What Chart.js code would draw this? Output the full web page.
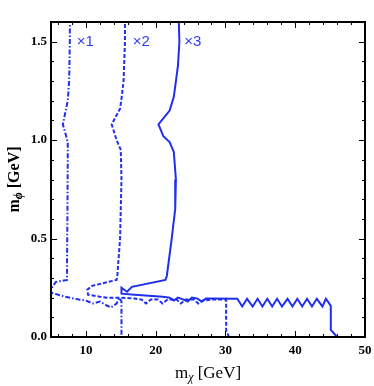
<!DOCTYPE html>
<html>
<head>
<meta charset="utf-8">
<script src="https://cdn.jsdelivr.net/npm/chart.js@4/dist/chart.umd.min.js"></script>
<style>
  html, body { margin: 0; padding: 0; background: #fff; }
  #wrap { width: 374px; height: 386px; }
</style>
</head>
<body>
<div id="wrap"><canvas id="chart" width="374" height="386"></canvas></div>
<script>
// Axis ticks
const xTicks = [10, 20, 30, 40, 50];
const yTicks = [0, 0.5, 1.0, 1.5];

// x1 contour (dash-dot)
const x1Chi = [7.7, 7.7, 7.6, 7.4, 6.7, 7.1, 7.4, 7.4, 7.35, 7.3, 7.3, 5.7, 5.0, 4.6, 5.0, 7.0, 9.0, 10.0, 11.0, 12.0, 13.0, 13.6, 14.4, 14.8, 15.1, 15.1];
const x1Phi = [1.62, 1.5, 1.3, 1.2, 1.08, 1.03, 0.99, 0.9, 0.6, 0.4, 0.29, 0.28, 0.245, 0.235, 0.225, 0.205, 0.19, 0.185, 0.17, 0.18, 0.16, 0.15, 0.17, 0.2, 0.18, 0.0];

// x2 contour (dashed)
const x2Chi = [15.6, 15.6, 15.4, 15.1, 14.9, 13.7, 14.4, 15.0, 15.1, 14.9, 14.5, 14.4, 10.9, 10.2, 10.3, 12.0, 13.0, 15.0, 17.0, 18.0, 18.6, 19.3, 20.3, 21.0, 21.7, 23.0, 23.6, 24.3, 25.5, 26.1, 26.8, 28.0, 30.1, 30.1, 30.5];
const x2Phi = [1.62, 1.5, 1.3, 1.21, 1.16, 1.08, 1.0, 0.95, 0.8, 0.5, 0.31, 0.29, 0.26, 0.24, 0.215, 0.205, 0.2, 0.2, 0.195, 0.19, 0.17, 0.19, 0.19, 0.17, 0.19, 0.19, 0.17, 0.19, 0.19, 0.17, 0.185, 0.19, 0.19, 0.035, 0.0];

// x3 contour (solid)
const x3Chi = [23.3, 23.4, 23.2, 22.9, 22.6, 22.0, 20.4, 21.1, 22.0, 22.6, 22.9, 22.8, 22.3, 21.6, 21.4, 16.6, 15.9, 15.1, 15.1, 17.0, 19.0, 21.0, 22.0, 22.6, 23.2, 24.0, 24.6, 25.2, 26.0, 26.6, 27.2, 28.0, 31.7,
  32.4, 33.1, 33.9, 34.6, 35.3, 36.0, 36.7, 37.4, 38.1, 38.9, 39.6, 40.3, 41.0, 41.7, 42.4, 43.1, 43.9, 44.4, 45.1, 45.1, 46.0];
const x3Phi = [1.62, 1.5, 1.38, 1.3, 1.22, 1.15, 1.08, 1.02, 0.99, 0.94, 0.8, 0.65, 0.5, 0.31, 0.29, 0.255, 0.23, 0.25, 0.22, 0.215, 0.21, 0.205, 0.2, 0.185, 0.2, 0.19, 0.18, 0.2, 0.195, 0.18, 0.195, 0.195, 0.194,
  0.155, 0.194, 0.155, 0.194, 0.155, 0.194, 0.155, 0.194, 0.155, 0.194, 0.155, 0.194, 0.155, 0.194, 0.155, 0.194, 0.155, 0.194, 0.158, 0.036, 0.0];

// curve labels
const labelText = ['\u00d71', '\u00d72', '\u00d73'];
const labelChi = [8.7, 16.7, 24.1];
const labelPhi = [1.5, 1.5, 1.5];

const toPoints = (xs, ys) => xs.map((x, i) => ({ x: x, y: ys[i] }));

const blue = '#1f2ff0';
const serif = '"Liberation Serif", "DejaVu Serif", serif';

// frame, inward ticks, curve labels and axis titles
const framePlugin = {
    id: 'frame',
    afterDraw(chart) {
        const ctx = chart.ctx;
        const a = chart.chartArea;
        const xs = chart.scales.x;
        const ys = chart.scales.y;
        ctx.save();
        ctx.strokeStyle = '#000';

        // minor and major ticks on all four sides
        ctx.lineWidth = 1;
        for (let v = 6; v <= 50; v += 2) {
            const px = Math.round(xs.getPixelForValue(v)) + 0.5;
            const len = v % 10 === 0 ? 6 : 3;
            ctx.beginPath();
            ctx.moveTo(px, a.bottom); ctx.lineTo(px, a.bottom - len);
            ctx.moveTo(px, a.top); ctx.lineTo(px, a.top + len);
            ctx.stroke();
        }
        for (let i = 1; i <= 16; i++) {
            const v = i / 10;
            const py = Math.round(ys.getPixelForValue(v)) + 0.5;
            const len = i % 5 === 0 ? 6 : 3;
            ctx.beginPath();
            ctx.moveTo(a.left, py); ctx.lineTo(a.left + len, py);
            ctx.moveTo(a.right, py); ctx.lineTo(a.right - len, py);
            ctx.stroke();
        }

        ctx.lineWidth = 2;
        ctx.strokeRect(a.left, a.top, a.right - a.left, a.bottom - a.top);

        // curve labels
        ctx.fillStyle = '#3040ee';
        ctx.font = '15px "Liberation Sans", Arial, sans-serif';
        ctx.textBaseline = 'middle';
        ctx.textAlign = 'left';
        labelText.forEach((t, i) => {
            ctx.fillText(t, xs.getPixelForValue(labelChi[i]), ys.getPixelForValue(labelPhi[i]));
        });

        // x axis title: m_chi [GeV]
        ctx.fillStyle = '#000';
        ctx.textBaseline = 'alphabetic';
        const big = '17px ' + serif;
        const sub = 'italic 12px ' + serif;
        ctx.font = big;
        const wm = ctx.measureText('m').width;
        const wr = ctx.measureText(' [GeV]').width;
        ctx.font = sub;
        const ws = ctx.measureText('\u03c7').width;
        let x0 = (a.left + a.right) / 2 - (wm + ws + wr) / 2;
        const yb = 378;
        ctx.font = big; ctx.fillText('m', x0, yb);
        ctx.font = sub; ctx.fillText('\u03c7', x0 + wm, yb + 3);
        ctx.font = big; ctx.fillText(' [GeV]', x0 + wm + ws, yb);

        // y axis title: m_phi [GeV], rotated
        ctx.translate(19, (a.top + a.bottom) / 2);
        ctx.rotate(-Math.PI / 2);
        const bigB = 'bold 16px ' + serif;
        const subB = 'bold italic 12px ' + serif;
        ctx.font = bigB;
        const wm2 = ctx.measureText('m').width;
        const wr2 = ctx.measureText(' [GeV]').width;
        ctx.font = subB;
        const ws2 = ctx.measureText('\u03d5').width;
        x0 = -(wm2 + ws2 + wr2) / 2;
        ctx.font = bigB; ctx.fillText('m', x0, 0);
        ctx.font = subB; ctx.fillText('\u03d5', x0 + wm2, 3);
        ctx.font = bigB; ctx.fillText(' [GeV]', x0 + wm2 + ws2, 0);

        ctx.restore();
    }
};

const lineSet = (xs, ys, dash) => ({
    data: toPoints(xs, ys),
    showLine: true,
    borderColor: blue,
    borderWidth: 2,
    borderDash: dash,
    pointRadius: 0,
    tension: 0,
    fill: false
});

new Chart(document.getElementById('chart').getContext('2d'), {
    type: 'scatter',
    data: {
        datasets: [
            lineSet(x1Chi, x1Phi, [5, 2, 1.5, 2]),
            lineSet(x2Chi, x2Phi, [4, 2]),
            lineSet(x3Chi, x3Phi, [])
        ]
    },
    options: {
        responsive: false,
        animation: false,
        devicePixelRatio: 1,
        layout: { padding: { left: 0, top: 22, right: 9, bottom: 0 } },
        plugins: { legend: { display: false }, tooltip: { enabled: false } },
        scales: {
            x: {
                type: 'linear',
                min: 5,
                max: 50,
                grid: { display: false, drawTicks: false },
                border: { display: false },
                afterBuildTicks: (scale) => { scale.ticks = xTicks.map((v) => ({ value: v })); },
                afterFit: (scale) => {
                    scale.height = 49;
                    scale.paddingLeft = 0;
                    scale.paddingRight = 0;
                },
                ticks: {
                    color: '#000',
                    padding: 6,
                    maxRotation: 0,
                    font: { family: serif, weight: 'bold', size: 13 },
                    callback: (v) => String(v)
                }
            },
            y: {
                type: 'linear',
                min: 0,
                max: 1.6,
                grid: { display: false, drawTicks: false },
                border: { display: false },
                afterBuildTicks: (scale) => { scale.ticks = yTicks.map((v) => ({ value: v })); },
                afterFit: (scale) => {
                    scale.width = 51;
                    scale.paddingTop = 0;
                    scale.paddingBottom = 0;
                },
                ticks: {
                    color: '#000',
                    padding: 4,
                    font: { family: serif, weight: 'bold', size: 13 },
                    callback: (v) => Number(v).toFixed(1)
                }
            }
        }
    },
    plugins: [framePlugin]
});
</script>
</body>
</html>
